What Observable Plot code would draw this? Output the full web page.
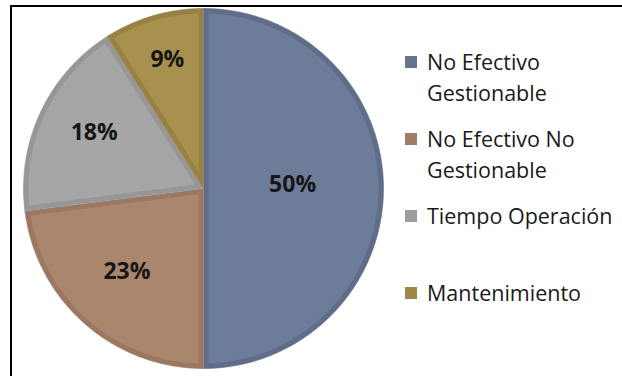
<!DOCTYPE html>
<html><head><meta charset="utf-8">
<script src="https://cdn.jsdelivr.net/npm/d3@7"></script>
<script src="https://cdn.jsdelivr.net/npm/@observablehq/plot@0.6"></script>
<style>
html,body{margin:0;padding:0;background:#fff;}
#wrap{position:relative;width:622px;height:376px;overflow:hidden;font-family:"Open Sans",sans-serif;}
#frame{position:absolute;left:10px;top:5px;width:700px;height:500px;border-top:2px solid #000;border-left:2px solid #000;box-sizing:border-box;}
#chart{position:absolute;left:0;top:0;}
#legend{position:absolute;left:405px;top:46px;}
.item{position:relative;height:77px;padding-left:22px;font-size:21.5px;line-height:31px;color:#1a1a1a;white-space:nowrap;}
.sw{position:absolute;left:0;top:10px;width:12px;height:12px;}
</style>
</head><body>
<div id="wrap"><div id="frame"></div><div id="chart"></div><div id="legend"></div></div>
<script>
const categories = ["No Efectivo Gestionable", "No Efectivo No Gestionable", "Tiempo Operación", "Mantenimiento"];
const legendLines = [["No Efectivo", "Gestionable"], ["No Efectivo No", "Gestionable"], ["Tiempo Operación"], ["Mantenimiento"]];
const values = [50, 23, 18, 9];
const labels = ["50%", "23%", "18%", "9%"];
const fillColors = ["#6d7c98", "#aa866c", "#a6a6a6", "#a8914f"];
const edgeColors = ["#5f6d89", "#9a7862", "#979797", "#978143"];
const swatchColors = ["#65738f", "#a07d66", "#9d9d9d", "#9e8848"];

const W = 622, H = 376, R = 180, CX = 203, CY = 188;
const inset = 5 / R;
const total = d3.sum(values);
const arcs = d3.pie().sort(null).startAngle(0).endAngle(2 * Math.PI)(values);

const outer = [], inner = [], labelPts = [];
arcs.forEach((a, i) => {
  const a0 = a.startAngle, a1 = a.endAngle;
  const n = Math.max(8, Math.ceil((a1 - a0) / (2 * Math.PI) * 400));
  outer.push({k: i, x: 0, y: 0, c: edgeColors[i]});
  for (let j = 0; j <= n; j++) {
    const t = a0 + (a1 - a0) * j / n;
    outer.push({k: i, x: Math.sin(t), y: Math.cos(t), c: edgeColors[i]});
  }
  const h = (a1 - a0) / 2, mid = (a0 + a1) / 2;
  const rr = 1 - inset;
  const apexD = inset / Math.sin(Math.min(h, Math.PI / 2));
  inner.push({k: i, x: apexD * Math.sin(mid), y: apexD * Math.cos(mid), c: fillColors[i]});
  const d = Math.asin(inset / rr);
  const b0 = a0 + d, b1 = a1 - d;
  for (let j = 0; j <= n; j++) {
    const t = b0 + (b1 - b0) * j / n;
    inner.push({k: i, x: rr * Math.sin(t), y: rr * Math.cos(t), c: fillColors[i]});
  }
  const share = values[i] / total;
  const f = 0.77 - 0.55 * share;
  labelPts.push({x: f * Math.sin(mid), y: f * Math.cos(mid), t: labels[i]});
});

const plot = Plot.plot({
  width: W, height: H,
  marginLeft: CX - R, marginRight: W - (CX + R),
  marginTop: CY - R, marginBottom: H - (CY + R),
  x: {domain: [-1, 1], axis: null},
  y: {domain: [-1, 1], axis: null},
  color: {type: "identity"},
  style: {background: "transparent"},
  marks: [
    Plot.line(outer, {x: "x", y: "y", z: "k", fill: "c", stroke: "c", strokeWidth: 0.6}),
    Plot.line(inner, {x: "x", y: "y", z: "k", fill: "c", stroke: "none"}),
    Plot.text(labelPts, {x: "x", y: "y", text: "t", dy: -4, fontSize: 23, fontWeight: "bold", fill: "#161616", fontFamily: "Open Sans"})
  ]
});
document.getElementById("chart").appendChild(plot);

const leg = d3.select("#legend");
categories.forEach((c, i) => {
  const it = leg.append("div").attr("class", "item").attr("title", c);
  it.append("div").attr("class", "sw").style("background", swatchColors[i]);
  legendLines[i].forEach(l => it.append("div").text(l));
});
</script>
</body></html>
